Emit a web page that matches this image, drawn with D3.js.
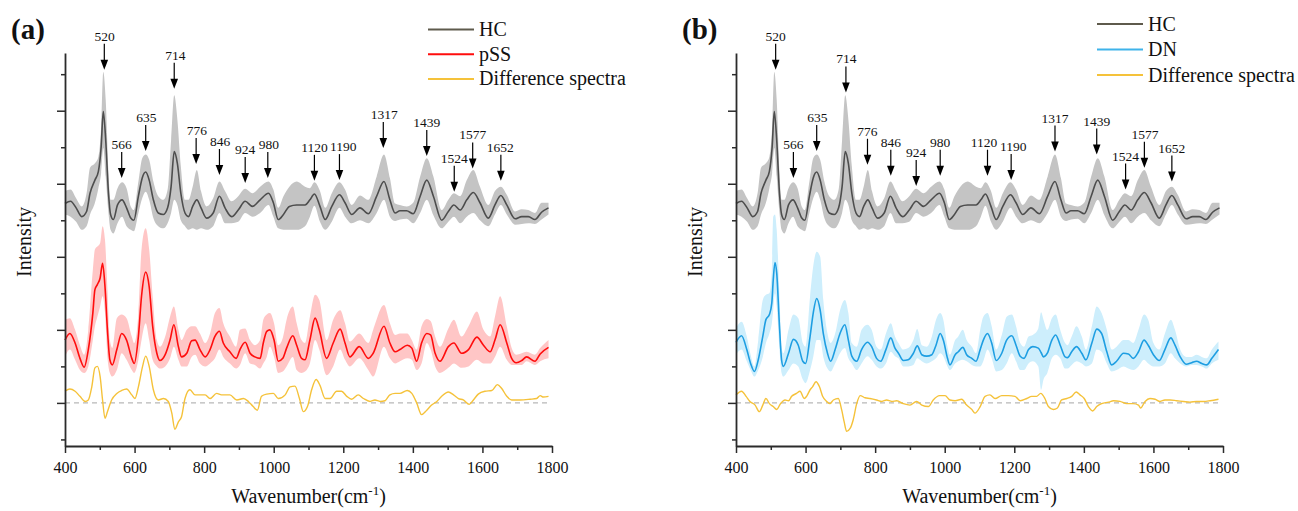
<!DOCTYPE html>
<html><head><meta charset="utf-8">
<script src="https://cdn.jsdelivr.net/npm/d3@7"></script>
<style>body{margin:0;background:#fff} svg{display:block}</style>
</head><body>
<svg id="chart" width="1298" height="511"></svg>
<script>
// ---------- DATA ----------
const xTicks = [400, 600, 800, 1000, 1200, 1400, 1600, 1800];
const xMinorTicks = [500, 700, 900, 1100, 1300, 1500, 1700];
const yTicks = [0, 1, 2, 3, 4];
const yMinorTicks = [-0.5, 0.5, 1.5, 2.5, 3.5, 4.5];

// HC (healthy control), shared by both panels
const wavenumberHC = [400,416,432,448,462,472,486,496,504,510,517,525,531,539,551,564,577,589,598,611,622,632,642,654,668,683,695,705,714,723,733,745,755,767,779,791,807,826,844,860,879,898,918,939,961,985,999,1013,1028,1045,1066,1090,1104,1117,1133,1148,1167,1189,1205,1224,1248,1272,1296,1317,1334,1349,1363,1382,1401,1421,1440,1459,1483,1502,1518,1536,1555,1574,1593,1617,1636,1653,1670,1694,1713,1732,1751,1770,1790];
const hcMean = [2.73,2.76,2.67,2.55,2.62,2.87,3.05,3.17,3.51,3.99,3.60,2.87,2.58,2.51,2.71,2.78,2.67,2.53,2.50,2.83,3.08,3.16,3.05,2.78,2.60,2.58,2.67,2.96,3.44,3.28,2.87,2.60,2.55,2.69,2.78,2.67,2.53,2.60,2.83,2.67,2.55,2.64,2.76,2.69,2.78,2.87,2.74,2.51,2.58,2.69,2.71,2.71,2.78,2.86,2.69,2.51,2.69,2.85,2.74,2.58,2.67,2.59,2.83,3.03,2.78,2.60,2.63,2.63,2.59,2.83,3.05,2.83,2.50,2.62,2.71,2.64,2.78,2.88,2.74,2.53,2.71,2.84,2.71,2.52,2.55,2.55,2.51,2.61,2.67];
const hcUpper = [2.90,2.92,2.80,2.69,2.87,3.22,3.28,3.37,3.79,4.53,4.15,3.15,2.78,2.78,2.94,3.02,2.94,2.69,2.64,3.03,3.35,3.40,3.33,3.03,2.83,2.78,2.92,3.60,4.21,3.88,3.24,2.78,2.78,2.96,3.19,2.90,2.69,2.80,3.03,2.90,2.76,2.83,2.93,2.87,2.96,3.03,2.92,2.67,2.83,2.96,3.03,2.96,2.94,3.02,2.90,2.67,2.87,3.02,2.92,2.71,2.84,2.78,3.10,3.40,3.08,2.73,2.71,2.69,2.74,3.10,3.35,3.10,2.64,2.78,2.87,2.83,3.05,3.19,2.96,2.71,2.90,2.96,2.85,2.62,2.65,2.64,2.60,2.74,2.74];
const hcLower = [2.58,2.55,2.48,2.37,2.42,2.58,2.74,2.94,3.15,3.49,3.10,2.60,2.37,2.32,2.46,2.55,2.42,2.37,2.35,2.60,2.80,2.89,2.78,2.53,2.42,2.39,2.46,2.60,2.78,2.71,2.50,2.42,2.37,2.39,2.37,2.39,2.37,2.42,2.60,2.46,2.46,2.48,2.60,2.55,2.60,2.71,2.55,2.39,2.37,2.37,2.37,2.42,2.55,2.70,2.48,2.37,2.48,2.67,2.55,2.46,2.50,2.46,2.60,2.78,2.55,2.49,2.51,2.52,2.46,2.60,2.78,2.57,2.39,2.48,2.55,2.46,2.55,2.60,2.50,2.42,2.58,2.71,2.58,2.44,2.45,2.46,2.45,2.51,2.58];

// pSS
const wavenumberPSS = [400,414,429,443,455,467,480,486,493,501,508,515,522,529,536,549,563,577,592,599,611,620,632,642,652,664,673,688,702,713,726,735,750,764,774,788,803,817,831,844,855,874,892,903,918,932,946,961,970,980,989,1001,1013,1026,1037,1055,1066,1080,1090,1104,1119,1131,1152,1171,1191,1205,1219,1246,1272,1286,1317,1334,1349,1363,1384,1397,1411,1425,1440,1451,1464,1478,1502,1518,1540,1560,1584,1603,1622,1636,1651,1670,1684,1697,1713,1727,1751,1766,1790];
const pssMean = [0.86,0.95,0.82,0.61,0.49,0.73,1.23,1.55,1.62,1.71,1.91,1.59,1.00,0.59,0.52,0.73,0.95,0.86,0.61,0.54,0.91,1.46,1.79,1.59,1.05,0.68,0.58,0.66,0.86,1.07,0.77,0.63,0.68,0.85,0.86,0.73,0.63,0.73,0.91,0.98,0.82,0.70,0.61,0.73,0.83,0.68,0.63,0.61,0.82,0.98,1.00,0.86,0.57,0.61,0.75,0.92,0.79,0.61,0.59,0.86,1.16,1.00,0.61,0.82,1.01,0.82,0.63,0.77,0.61,0.68,1.05,0.82,0.70,0.73,0.79,0.75,0.57,0.82,0.95,0.93,0.68,0.57,0.77,0.82,0.68,0.73,0.90,0.79,0.70,0.86,1.07,0.82,0.61,0.55,0.58,0.63,0.57,0.67,0.76];
const pssUpper = [1.14,1.16,1.00,0.79,0.66,1.00,1.82,2.10,2.14,2.19,2.42,2.23,1.55,0.86,0.75,1.16,1.21,1.16,0.91,0.82,1.23,2.10,2.39,2.10,1.46,0.86,0.77,0.91,1.18,1.32,1.00,0.86,1.00,1.05,1.05,0.95,0.82,0.95,1.23,1.30,1.09,0.91,0.77,1.00,1.02,0.86,0.79,0.86,1.14,1.21,1.23,1.09,0.79,0.89,1.14,1.32,1.09,0.86,0.82,1.18,1.48,1.41,0.86,1.14,1.27,1.09,0.84,0.95,0.82,1.00,1.34,1.09,0.93,0.95,0.95,0.86,0.73,1.05,1.15,1.12,0.91,0.77,1.02,1.14,0.91,1.05,1.25,1.00,0.91,1.18,1.46,1.05,0.75,0.66,0.68,0.70,0.66,0.75,0.86];
const pssLower = [0.63,0.73,0.59,0.45,0.41,0.50,0.86,1.05,1.18,1.32,1.46,1.23,0.63,0.41,0.36,0.45,0.68,0.59,0.45,0.41,0.59,0.86,1.09,0.86,0.59,0.50,0.47,0.50,0.61,0.77,0.59,0.50,0.50,0.63,0.66,0.54,0.50,0.54,0.61,0.73,0.63,0.54,0.47,0.52,0.68,0.54,0.52,0.47,0.54,0.63,0.77,0.63,0.41,0.43,0.50,0.63,0.45,0.41,0.43,0.54,0.86,0.73,0.38,0.50,0.73,0.59,0.50,0.61,0.45,0.36,0.77,0.61,0.54,0.57,0.61,0.59,0.45,0.54,0.82,0.73,0.50,0.41,0.48,0.54,0.48,0.50,0.59,0.54,0.54,0.63,0.77,0.59,0.52,0.52,0.52,0.57,0.52,0.57,0.61];

// Difference spectra (a)
const wavenumberDiffA = [400,414,429,443,458,467,477,486,493,501,508,515,522,534,549,563,577,592,601,611,623,632,642,654,668,683,697,707,716,726,735,745,759,774,788,803,817,836,850,874,894,913,927,941,953,965,980,999,1013,1033,1047,1061,1074,1085,1097,1109,1122,1133,1148,1162,1181,1195,1210,1224,1243,1258,1277,1291,1306,1320,1334,1349,1363,1384,1397,1411,1425,1440,1454,1469,1483,1502,1517,1531,1545,1562,1574,1588,1607,1627,1643,1655,1670,1684,1708,1737,1756,1766,1775,1790];
const diffA = [0.16,0.19,0.16,0.09,0.02,0.04,0.22,0.48,0.50,0.36,0.04,-0.21,-0.12,0.04,0.13,0.17,0.19,0.11,0.06,0.22,0.50,0.64,0.50,0.18,0.04,0.06,0.02,-0.14,-0.36,-0.26,-0.19,0.06,0.18,0.11,0.11,0.11,0.06,0.13,0.11,0.11,0.04,0.06,0.02,-0.05,-0.10,0.09,0.12,0.13,0.06,0.11,0.22,0.23,0.06,-0.12,-0.05,0.18,0.32,0.24,0.06,0.06,0.16,0.16,0.09,0.05,0.11,0.06,0.02,0.04,0.02,0.03,0.11,0.13,0.13,0.17,0.13,0.00,-0.16,-0.10,-0.03,0.02,0.09,0.15,0.11,0.06,0.04,-0.02,0.04,0.12,0.16,0.17,0.25,0.20,0.09,0.04,0.04,0.05,0.06,0.10,0.08,0.09];

// DN
const wavenumberDN = [400,416,431,442,453,464,477,486,496,503,507,512,517,525,531,536,551,565,579,592,600,613,622,632,642,651,663,672,685,699,713,723,733,747,761,778,790,804,816,831,845,857,867,881,895,910,921,934,948,963,975,987,996,1008,1015,1030,1039,1052,1063,1078,1090,1102,1111,1123,1135,1148,1164,1178,1193,1205,1217,1228,1241,1253,1269,1277,1284,1295,1308,1319,1332,1346,1353,1365,1379,1394,1406,1423,1437,1451,1466,1480,1494,1514,1528,1542,1557,1573,1585,1600,1617,1633,1650,1662,1677,1694,1710,1724,1739,1753,1768,1787];
const dnMean = [0.83,0.92,0.73,0.54,0.43,0.59,0.91,1.14,1.21,1.37,1.68,1.92,1.78,1.05,0.59,0.50,0.68,0.87,0.79,0.57,0.54,0.91,1.23,1.43,1.27,0.95,0.68,0.57,0.73,0.95,1.07,0.86,0.64,0.57,0.73,0.83,0.77,0.61,0.57,0.73,0.89,0.75,0.68,0.58,0.59,0.68,0.78,0.66,0.64,0.66,0.79,0.95,0.86,0.61,0.52,0.66,0.70,0.76,0.66,0.61,0.57,0.73,0.86,0.95,0.82,0.58,0.68,0.86,0.92,0.79,0.64,0.61,0.73,0.77,0.75,0.69,0.63,0.68,0.86,0.93,0.79,0.63,0.62,0.70,0.77,0.68,0.59,0.82,1.01,0.95,0.70,0.52,0.57,0.68,0.67,0.61,0.70,0.86,0.79,0.66,0.58,0.73,0.89,0.79,0.63,0.53,0.55,0.57,0.54,0.52,0.61,0.73];
const dnUpper = [1.02,1.11,0.91,0.66,0.50,0.86,1.41,1.48,1.50,1.82,2.55,2.58,2.37,1.46,0.77,0.68,1.00,1.21,1.16,0.82,0.77,1.46,1.87,2.07,2.00,1.41,0.95,0.82,0.95,1.27,1.41,1.23,0.82,0.77,1.00,1.07,1.00,0.77,0.73,0.95,1.09,0.91,0.82,0.73,0.75,0.86,1.01,0.79,0.77,0.91,1.14,1.23,1.14,0.77,0.66,0.86,0.91,1.00,0.86,0.77,0.68,1.00,1.18,1.23,1.05,0.73,0.93,1.18,1.21,1.05,0.82,0.77,0.91,0.93,1.02,1.24,1.14,1.00,1.16,1.21,1.00,0.82,0.79,0.91,1.05,0.91,0.73,1.05,1.32,1.23,1.00,0.73,0.77,0.86,0.86,0.82,1.00,1.21,1.14,0.82,0.73,0.95,1.14,1.00,0.73,0.63,0.63,0.66,0.63,0.61,0.73,0.84];
const dnLower = [0.66,0.73,0.57,0.45,0.36,0.45,0.63,0.82,0.95,1.09,1.27,1.50,1.32,0.73,0.41,0.36,0.45,0.54,0.50,0.32,0.27,0.45,0.63,0.86,0.86,0.63,0.47,0.43,0.54,0.68,0.75,0.61,0.54,0.45,0.54,0.64,0.59,0.50,0.47,0.54,0.70,0.64,0.61,0.50,0.50,0.52,0.61,0.57,0.54,0.57,0.61,0.68,0.64,0.50,0.45,0.54,0.57,0.59,0.57,0.52,0.50,0.50,0.57,0.73,0.61,0.43,0.45,0.54,0.68,0.57,0.45,0.45,0.54,0.57,0.50,0.18,0.32,0.41,0.61,0.66,0.61,0.47,0.47,0.52,0.57,0.54,0.50,0.54,0.73,0.70,0.54,0.43,0.45,0.50,0.47,0.45,0.50,0.59,0.54,0.50,0.50,0.54,0.68,0.61,0.54,0.50,0.52,0.52,0.50,0.47,0.54,0.59];

// Difference spectra (b)
const wavenumberDiffB = [400,416,429,440,455,467,477,486,496,507,517,528,541,551,560,574,584,596,603,613,620,630,640,649,661,670,680,694,704,711,718,728,737,747,757,771,785,804,819,833,848,862,881,900,919,934,953,967,985,1001,1015,1030,1049,1063,1078,1087,1102,1116,1130,1145,1164,1183,1202,1217,1236,1250,1264,1276,1288,1298,1312,1324,1336,1351,1365,1378,1389,1401,1413,1425,1437,1451,1471,1485,1504,1523,1542,1557,1563,1576,1590,1605,1619,1633,1648,1667,1686,1705,1724,1744,1763,1787];
const diffB = [0.11,0.16,0.09,0.02,-0.03,-0.12,-0.03,0.06,-0.01,-0.05,-0.09,-0.01,0.04,0.03,0.09,0.13,0.16,0.06,0.09,0.18,0.22,0.29,0.22,0.09,0.02,-0.01,0.04,0.06,-0.10,-0.26,-0.39,-0.35,-0.23,-0.01,0.10,0.07,0.06,0.04,0.02,0.04,0.02,0.03,-0.01,-0.03,0.02,-0.03,-0.05,0.04,0.10,0.10,0.04,0.03,0.05,-0.03,-0.09,-0.14,-0.05,0.09,0.11,0.06,0.10,0.10,0.09,0.03,0.06,0.09,0.09,0.13,0.06,-0.05,-0.09,-0.07,0.04,0.06,0.09,0.15,0.11,0.06,-0.05,-0.11,-0.05,-0.01,0.01,0.03,0.02,-0.01,-0.01,-0.03,-0.07,0.02,0.06,0.05,0.02,0.04,0.04,0.03,0.02,0.01,0.02,0.02,0.03,0.05];

// Peak annotations
const peakLabels = ["520","566","635","714","776","846","924","980","1120","1190","1317","1439","1524","1577","1652"];
const peakWavenumberA = [513,563,632,714,777,844,918,983,1117,1189,1315,1440,1519,1572,1653];
const peakLabelWavenumberA = [514,563,634,717,779,846,918,986,1117,1200,1318,1440,1519,1572,1651];
const peakTipA = [4.56,3.08,3.45,4.30,3.27,3.12,3.01,3.08,3.04,3.05,3.49,3.38,2.89,3.21,3.04];
const peakWavenumberB = [514,565,632,716,778,845,918,987,1123,1191,1317,1437,1520,1574,1653];
const peakLabelWavenumberB = [514,565,634,717,778,845,918,987,1113,1197,1317,1437,1520,1576,1653];
const peakTipB = [4.56,3.08,3.45,4.25,3.26,3.11,2.97,3.11,3.11,3.05,3.44,3.40,2.92,3.22,3.03];

const panelLetters = ["(a)", "(b)"];
const legendA = ["HC", "pSS", "Difference spectra"];
const legendB = ["HC", "DN", "Difference spectra"];

// ---------- DRAWING ----------
const svg = d3.select("#chart");
const FONT = "'Liberation Serif','Times New Roman',Times,serif";
const C = {
  hc: "#4d4d4d", hcLegend: "#5e5a4c", hcBand: "#c4c4c4",
  pss: "#ff0d0d", pssBand: "#ffc6c6",
  dn: "#1e9ee2", dnLegend: "#3fb3ea", dnBand: "#cdeefc",
  diff: "#f5c23a", axis: "#2b2b2b"
};

function zip(ws, ...cols) { return ws.map((w, i) => ({ w, v: cols.map(c => c[i]) })); }

function drawPanel(o) {
  const g = svg.append("g");
  const x = d3.scaleLinear().domain([400, 1800]).range([o.left, o.left + 487]);
  const y = d3.scaleLinear().domain([-0.59, 4.79]).range([446, 53]);

  const area = d3.area().curve(d3.curveMonotoneX)
    .x(d => x(d.w)).y0(d => y(d.v[2])).y1(d => y(d.v[1]));
  const line = d3.line().curve(d3.curveMonotoneX).x(d => x(d.w)).y(d => y(d.v[0]));

  const hc = zip(wavenumberHC, hcMean, hcUpper, hcLower);
  const grp = zip(o.w, o.mean, o.upper, o.lower);
  const dif = zip(o.dw, o.diff);

  g.append("path").datum(hc).attr("d", area).attr("fill", C.hcBand);
  g.append("path").datum(grp).attr("d", area).attr("fill", o.band);
  g.append("path").datum(hc).attr("d", line).attr("fill", "none").attr("stroke", C.hc).attr("stroke-width", 1.6);
  g.append("path").datum(grp).attr("d", line).attr("fill", "none").attr("stroke", o.color).attr("stroke-width", 1.6);

  g.append("line").attr("x1", x(400)).attr("x2", x(1795)).attr("y1", y(0)).attr("y2", y(0))
    .attr("stroke", "#b8b8b8").attr("stroke-width", 1.2).attr("stroke-dasharray", "5,4");
  g.append("path").datum(dif).attr("d", line).attr("fill", "none").attr("stroke", C.diff).attr("stroke-width", 1.4);

  // axes
  const ax = g.append("g").attr("transform", "translate(0,446)");
  ax.call(d3.axisBottom(x).tickValues(xTicks).tickSize(7).tickSizeOuter(0).tickPadding(9).tickFormat(d3.format("d")));
  ax.append("g").call(d3.axisBottom(x).tickValues(xMinorTicks).tickSize(4).tickFormat(""))
    .select(".domain").remove();
  const ay = g.append("g").attr("transform", `translate(${o.left},0)`);
  ay.call(d3.axisLeft(y).tickValues(yTicks).tickSize(8).tickSizeOuter(0).tickFormat(""));
  ay.append("g").call(d3.axisLeft(y).tickValues(yMinorTicks).tickSize(4).tickFormat(""))
    .select(".domain").remove();
  g.selectAll(".domain").attr("stroke", C.axis).attr("stroke-width", 1.8);
  g.selectAll(".tick line").attr("stroke", C.axis).attr("stroke-width", 1.5);
  g.selectAll(".tick text").attr("font-family", FONT).attr("font-size", 16).attr("fill", "#111");

  // axis titles
  g.append("text").attr("transform", `translate(${o.left - 34},242) rotate(-90)`)
    .attr("text-anchor", "middle").attr("font-family", FONT).attr("font-size", 20).attr("fill", "#111")
    .text("Intensity");
  const xt = g.append("text").attr("x", x(1100)).attr("y", 503).attr("text-anchor", "middle")
    .attr("font-family", FONT).attr("font-size", 20).attr("fill", "#111");
  xt.append("tspan").text("Wavenumber(cm");
  xt.append("tspan").attr("dy", -8).attr("font-size", 13).text("-1");
  xt.append("tspan").attr("dy", 8).text(")");

  // panel letter
  g.append("text").attr("x", o.left - 54).attr("y", 39).attr("font-family", FONT)
    .attr("font-weight", "bold").attr("font-size", 29).attr("fill", "#111").text(o.letter);

  // peak arrows
  const pk = g.append("g");
  peakLabels.forEach((lab, i) => {
    const px = x(o.pw[i]), ty = y(o.pt[i]);
    pk.append("line").attr("x1", px).attr("x2", px).attr("y1", ty - 26).attr("y2", ty - 7)
      .attr("stroke", "#000").attr("stroke-width", 1.2);
    pk.append("path").attr("d", `M${px - 3.8},${ty - 10}L${px + 3.8},${ty - 10}L${px},${ty}Z`).attr("fill", "#000");
    pk.append("text").attr("x", x(o.plw[i])).attr("y", ty - 29).attr("text-anchor", "middle")
      .attr("font-family", FONT).attr("font-size", 13.5).attr("fill", "#111").text(lab);
  });

  // legend
  const lg = g.append("g");
  const lcol = [C.hcLegend, o.legendColor, C.diff];
  o.legend.forEach((t, i) => {
    const ly = o.legY + i * o.legGap;
    lg.append("line").attr("x1", o.legX).attr("x2", o.legX + 46).attr("y1", ly).attr("y2", ly)
      .attr("stroke", lcol[i]).attr("stroke-width", 2);
    lg.append("text").attr("x", o.legX + 51).attr("y", ly + 6.5).attr("font-family", FONT)
      .attr("font-size", 20).attr("fill", "#111").text(t);
  });
}

drawPanel({
  left: 65, letter: panelLetters[0],
  w: wavenumberPSS, mean: pssMean, upper: pssUpper, lower: pssLower,
  color: C.pss, band: C.pssBand, legendColor: C.pss,
  dw: wavenumberDiffA, diff: diffA,
  pw: peakWavenumberA, plw: peakLabelWavenumberA, pt: peakTipA,
  legend: legendA, legX: 428, legY: 29.5, legGap: 24.7
});
drawPanel({
  left: 736, letter: panelLetters[1],
  w: wavenumberDN, mean: dnMean, upper: dnUpper, lower: dnLower,
  color: C.dn, band: C.dnBand, legendColor: C.dnLegend,
  dw: wavenumberDiffB, diff: diffB,
  pw: peakWavenumberB, plw: peakLabelWavenumberB, pt: peakTipB,
  legend: legendB, legX: 1097, legY: 24, legGap: 25.5
});
</script>
</body></html>
